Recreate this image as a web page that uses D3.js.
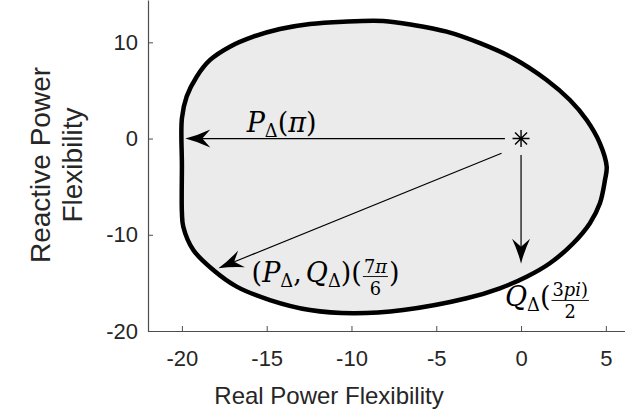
<!DOCTYPE html>
<html>
<head>
<meta charset="utf-8">
<script src="https://cdn.jsdelivr.net/npm/d3@7"></script>
<style>
  body { margin: 0; background: #fff; }
  svg { display: block; }
</style>
</head>
<body>
<div id="chart"></div>
<script>
// Flexibility region (P, Q) boundary
const boundaryP = [-20, -20, -20, -19.72, -19.13, -18.34, -17.17, -15.79, -14.22, -12.45, -10.48, -8.13,
  -6.36, -4.39, -2.42, -0.46, 1.51, 2.88, 3.87, 4.65, 5.05, 4.95, 4.65, 4.06, 3.08, 1.70, 0.33,
  -1.25, -3.21, -6.95, -9.90, -12.45, -14.81, -16.77, -18.15, -19.33, -19.92];
const boundaryQ = [-7.7, -2.8, 2.1, 4.36, 6.43, 8.17, 9.55, 10.59, 11.39, 11.91, 12.15, 12.22,
  11.81, 11.11, 9.91, 8.35, 6.09, 4.01, 1.93, -0.49, -2.92, -4.30, -6.73, -8.80, -10.88, -12.96, -14.36,
  -15.56, -16.60, -17.82, -18.16, -17.82, -16.78, -15.39, -13.66, -11.58, -9.16];

// operating point and direction arrows
const originP = 0, originQ = 0;
const arrowStartP = [-0.95, -1.15, 0];
const arrowStartQ = [0, -1.53, -1.7];
const arrowEndP = [-19.8, -17.85, 0];
const arrowEndQ = [0, -13.48, -13.0];

const xTicks = [-20, -15, -10, -5, 0, 5];
const yTicks = [-20, -10, 0, 10];

const W = 625, H = 415;
const svg = d3.select("#chart").append("svg")
    .attr("width", W)
    .attr("height", H);

const x = d3.scaleLinear().domain([-22, 6.13]).range([148, 625]);
const y = d3.scaleLinear().domain([-20, 14.4]).range([331, 0]);

const axisColor = "#4d4d4d";
const sans = "'Liberation Sans', Arial, sans-serif";
const serif = "'DejaVu Serif', serif";

// region
const pts = boundaryP.map((p, i) => [p, boundaryQ[i]]);
const line = d3.line()
    .x(d => x(d[0]))
    .y(d => y(d[1]))
    .curve(d3.curveCatmullRomClosed.alpha(0.5));

svg.append("path")
    .attr("d", line(pts))
    .attr("fill", "#ebebeb")
    .attr("stroke", "#000")
    .attr("stroke-width", 4.5)
    .attr("stroke-linejoin", "round");

// axes (MATLAB style, ticks inward, only left + bottom)
const xAxis = svg.append("g")
    .attr("transform", `translate(0,${y(-20)})`)
    .call(d3.axisBottom(x).tickValues(xTicks).tickSize(-5).tickSizeOuter(0).tickPadding(19).tickFormat(d3.format("d")));
const yAxis = svg.append("g")
    .attr("transform", `translate(${x(-22)},0)`)
    .call(d3.axisLeft(y).tickValues(yTicks).tickSize(-5).tickSizeOuter(0).tickPadding(10).tickFormat(d3.format("d")));

[xAxis, yAxis].forEach(a => {
    a.select(".domain").attr("stroke", axisColor).attr("stroke-width", 1.2);
    a.selectAll(".tick line").attr("stroke", axisColor);
    a.selectAll(".tick text")
        .attr("fill", "#262626")
        .style("font-family", sans)
        .style("font-size", "22px");
});
// hyphen minus like the original
svg.selectAll(".tick text").text(function() { return d3.select(this).text().replace("\u2212", "-"); });

// axis labels
svg.append("text")
    .attr("x", 329)
    .attr("y", 404)
    .attr("text-anchor", "middle")
    .attr("fill", "#262626")
    .style("font-family", sans)
    .style("font-size", "24px")
    .text("Real Power Flexibility");

const yLab = svg.append("text")
    .attr("transform", "translate(50,165) rotate(-90)")
    .attr("text-anchor", "middle")
    .attr("fill", "#262626")
    .style("font-family", sans)
    .style("font-size", "28px");
yLab.append("tspan").attr("x", 0).attr("y", 0).text("Reactive Power");
yLab.append("tspan").attr("x", 0).attr("y", 32).text("Flexibility");

// arrows
function arrowHead(tx, ty, ang, L, Wd, notch) {
    const p = d3.path();
    p.moveTo(0, 0);
    p.quadraticCurveTo(-L * 0.5, -Wd * 0.35, -L, -Wd);
    p.lineTo(-notch, 0);
    p.lineTo(-L, Wd);
    p.quadraticCurveTo(-L * 0.5, Wd * 0.35, 0, 0);
    p.closePath();
    svg.append("path")
        .attr("d", p.toString())
        .attr("transform", `translate(${tx},${ty}) rotate(${ang * 180 / Math.PI})`)
        .attr("fill", "#000");
}

arrowStartP.forEach((sp, i) => {
    const x1 = x(sp), y1 = y(arrowStartQ[i]);
    const x2 = x(arrowEndP[i]), y2 = y(arrowEndQ[i]);
    const ang = Math.atan2(y2 - y1, x2 - x1);
    svg.append("line")
        .attr("x1", x1).attr("y1", y1)
        .attr("x2", x2 - 12 * Math.cos(ang)).attr("y2", y2 - 12 * Math.sin(ang))
        .attr("stroke", "#000")
        .attr("stroke-width", 1.2);
    arrowHead(x2, y2, ang, 25, 9, 17);
});

// operating point marker (asterisk)
const cx0 = x(originP), cy0 = y(originQ), r = 8.5;
const star = d3.path();
for (let k = 0; k < 4; k++) {
    const a = k * Math.PI / 4;
    star.moveTo(cx0 - r * Math.cos(a), cy0 - r * Math.sin(a));
    star.lineTo(cx0 + r * Math.cos(a), cy0 + r * Math.sin(a));
}
svg.append("path").attr("d", star.toString()).attr("stroke", "#000").attr("stroke-width", 1.4);

// LaTeX-like labels
const fs = 27;
function addRuns(g, runs, size, yy) {
    // one text element with tspans, returns it
    const t = g.append("text").attr("y", yy)
        .style("font-family", serif).style("font-size", size + "px");
    runs.forEach(r => t.append("tspan").style("font-style", r.it ? "italic" : "normal").text(r.t));
    return t;
}
function mathLabel(px, qy, parts) {
    const g = svg.append("g");
    let cx = x(px);
    const base = y(qy);
    parts.forEach(p => {
        if (p.frac) {
            const fsz = fs * 0.66;
            const num = addRuns(g, p.frac[0], fsz, base - 9.5);
            const den = addRuns(g, p.frac[1], fsz, base + 12.5);
            const wf = Math.max(num.node().getComputedTextLength(), den.node().getComputedTextLength()) + 4;
            num.attr("x", cx + wf / 2).attr("text-anchor", "middle");
            den.attr("x", cx + wf / 2).attr("text-anchor", "middle");
            g.append("line")
                .attr("x1", cx + 1).attr("x2", cx + wf - 1)
                .attr("y1", base - 5.5).attr("y2", base - 5.5)
                .attr("stroke", "#000").attr("stroke-width", 0.9);
            cx += wf;
        } else {
            const t = g.append("text")
                .attr("x", cx)
                .attr("y", p.sub ? base + 5 : base)
                .style("font-family", serif)
                .style("font-size", (p.sub ? fs * 0.66 : fs) + "px")
                .style("font-style", p.it ? "italic" : "normal")
                .text(p.t);
            cx += t.node().getComputedTextLength() + (p.gap || 0);
        }
    });
}

mathLabel(-16.18, 0.72, [
    {t: "P", it: true}, {t: "\u0394", sub: true}, {t: "("}, {t: "\u03c0", it: true}, {t: ")"}
]);
mathLabel(-15.89, -14.91, [
    {t: "("}, {t: "P", it: true}, {t: "\u0394", sub: true}, {t: ",", gap: 4},
    {t: "Q", it: true}, {t: "\u0394", sub: true}, {t: ")("},
    {frac: [[{t: "7"}, {t: "\u03c0", it: true}], [{t: "6"}]]}, {t: ")"}
]);
mathLabel(-0.95, -17.4, [
    {t: "Q", it: true}, {t: "\u0394", sub: true}, {t: "("},
    {frac: [[{t: "3"}, {t: "pi", it: true}, {t: ")"}], [{t: "2"}]]}
]);
</script>
</body>
</html>
